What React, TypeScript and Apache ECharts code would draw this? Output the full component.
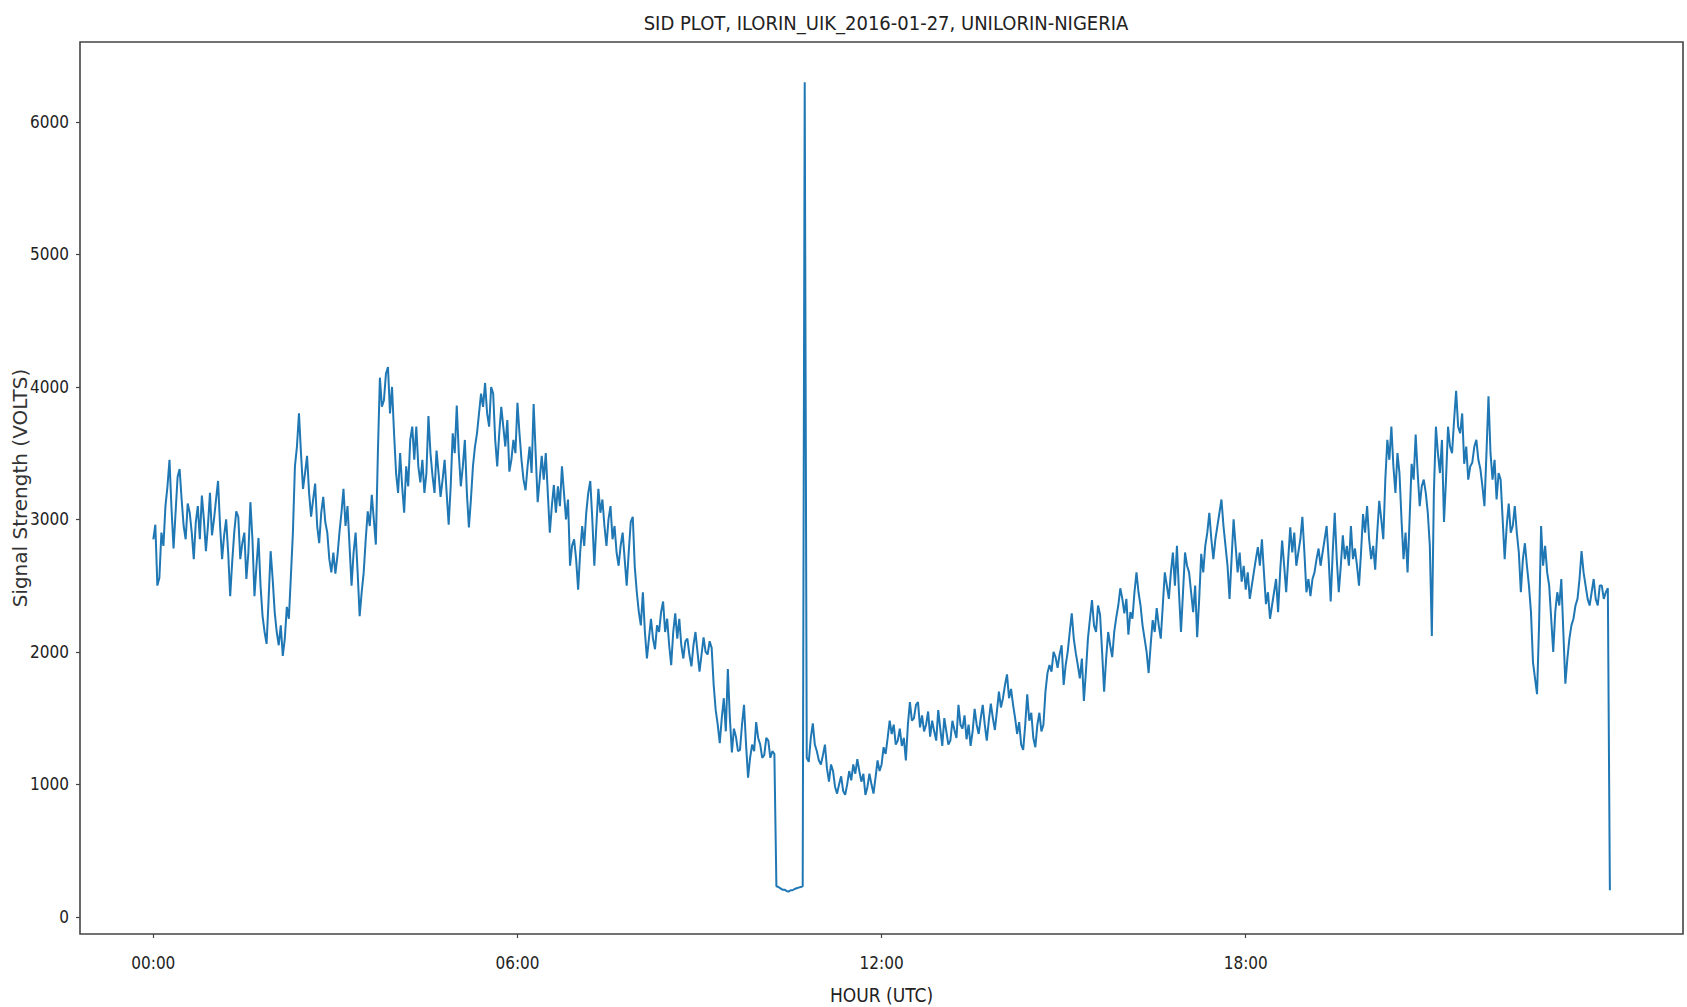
import React, { useEffect, useRef } from "react";
import * as echarts from "echarts";

// Signal strength samples, 30 per hour (every 2 minutes)
const h00 = [2850, 2960, 2500, 2560, 2900, 2800, 3100, 3250, 3450, 3080, 2780, 3050, 3320, 3380, 3150, 2950, 2850, 3120, 3050, 2900, 2700, 2980, 3100, 2850, 3180, 3000, 2760, 2950, 3200, 2880];
const h01 = [3000, 3150, 3290, 2950, 2700, 2880, 3000, 2750, 2420, 2680, 2900, 3060, 3020, 2700, 2820, 2900, 2550, 2750, 3130, 2850, 2420, 2650, 2860, 2500, 2270, 2150, 2060, 2400, 2760, 2550];
const h02 = [2300, 2150, 2050, 2200, 1970, 2100, 2340, 2250, 2570, 2900, 3400, 3550, 3800, 3500, 3230, 3350, 3480, 3200, 3020, 3150, 3270, 2950, 2820, 3050, 3170, 2980, 2900, 2700, 2600, 2750];
const h03 = [2590, 2720, 2900, 3050, 3230, 2950, 3100, 2800, 2500, 2750, 2900, 2600, 2270, 2450, 2600, 2850, 3060, 2950, 3185, 3000, 2810, 3500, 4070, 3850, 3900, 4100, 4150, 3800, 4000, 3650];
const h04 = [3350, 3200, 3500, 3250, 3050, 3400, 3250, 3600, 3700, 3450, 3700, 3400, 3280, 3450, 3200, 3350, 3780, 3500, 3330, 3200, 3520, 3350, 3170, 3300, 3450, 3200, 2960, 3250, 3650, 3500];
const h05 = [3860, 3500, 3250, 3400, 3600, 3200, 2940, 3150, 3400, 3550, 3650, 3800, 3950, 3850, 4030, 3800, 3700, 4000, 3950, 3600, 3400, 3650, 3850, 3700, 3550, 3750, 3360, 3450, 3600, 3500];
const h06 = [3880, 3650, 3450, 3300, 3220, 3400, 3550, 3350, 3870, 3500, 3130, 3300, 3480, 3300, 3500, 3200, 2900, 3100, 3260, 3050, 3250, 3100, 3400, 3200, 3000, 3150, 2650, 2800, 2850, 2700];
const h07 = [2470, 2750, 2950, 2800, 3050, 3200, 3290, 3000, 2650, 2950, 3230, 3050, 3150, 2950, 2800, 3000, 3100, 2850, 2950, 2750, 2650, 2800, 2900, 2700, 2500, 2750, 2980, 3020, 2640, 2450];
const h08 = [2300, 2200, 2450, 2150, 1950, 2100, 2250, 2100, 2020, 2200, 2150, 2300, 2380, 2150, 2250, 2050, 1900, 2150, 2290, 2100, 2250, 2050, 1950, 2080, 2100, 1980, 1890, 2050, 2150, 2000];
const h09 = [1850, 1980, 2110, 2000, 1980, 2080, 2030, 1750, 1560, 1450, 1310, 1500, 1650, 1400, 1870, 1500, 1240, 1420, 1360, 1250, 1260, 1450, 1600, 1300, 1050, 1200, 1300, 1250, 1470, 1350];
const h10 = [1300, 1200, 1220, 1350, 1330, 1200, 1250, 1230, 230, 225, 215, 205, 205, 195, 190, 200, 200, 210, 215, 220, 225, 230, 6300, 1200, 1170, 1350, 1460, 1300, 1250, 1180];
const h11 = [1150, 1220, 1300, 1120, 1020, 1150, 1100, 980, 930, 1000, 1060, 950, 920, 1000, 1100, 1030, 1150, 1080, 1190, 1100, 1020, 1080, 920, 980, 1080, 1000, 930, 1050, 1180, 1100];
const h12 = [1150, 1280, 1230, 1350, 1480, 1380, 1450, 1300, 1330, 1420, 1290, 1350, 1180, 1450, 1620, 1480, 1500, 1600, 1620, 1430, 1520, 1400, 1450, 1550, 1360, 1480, 1400, 1330, 1560, 1420];
const h13 = [1290, 1500, 1400, 1300, 1330, 1480, 1410, 1350, 1600, 1450, 1420, 1520, 1340, 1450, 1290, 1400, 1570, 1450, 1380, 1500, 1600, 1450, 1330, 1480, 1610, 1500, 1410, 1550, 1700, 1580];
const h14 = [1650, 1750, 1830, 1650, 1720, 1600, 1500, 1380, 1470, 1300, 1260, 1450, 1680, 1480, 1540, 1350, 1280, 1450, 1540, 1400, 1450, 1700, 1840, 1900, 1850, 2000, 1960, 1880, 1980, 2050];
const h15 = [1750, 1900, 2000, 2150, 2290, 2100, 1990, 1900, 1800, 1950, 1630, 1850, 2100, 2250, 2390, 2200, 2150, 2350, 2280, 2000, 1700, 1950, 2150, 2050, 1960, 2150, 2260, 2350, 2480, 2400];
const h16 = [2290, 2400, 2130, 2300, 2250, 2450, 2600, 2450, 2350, 2200, 2100, 2000, 1840, 2050, 2240, 2150, 2330, 2200, 2100, 2350, 2600, 2500, 2400, 2600, 2750, 2500, 2800, 2450, 2150, 2450];
const h17 = [2750, 2650, 2600, 2450, 2300, 2500, 2110, 2400, 2740, 2600, 2800, 2900, 3050, 2850, 2700, 2850, 2950, 3050, 3150, 2950, 2800, 2650, 2400, 2700, 3000, 2800, 2600, 2750, 2530, 2650];
const h18 = [2470, 2600, 2400, 2500, 2600, 2700, 2790, 2650, 2850, 2600, 2360, 2450, 2250, 2350, 2450, 2550, 2300, 2600, 2840, 2650, 2450, 2700, 2940, 2750, 2900, 2650, 2750, 2850, 3020, 2750];
const h19 = [2450, 2550, 2420, 2550, 2600, 2700, 2780, 2650, 2750, 2850, 2950, 2700, 2380, 2750, 3050, 2700, 2450, 2650, 2880, 2700, 2800, 2650, 2950, 2700, 2780, 2650, 2500, 2750, 3040, 2900];
const h20 = [3100, 2850, 2700, 2800, 2620, 2900, 3140, 3000, 2850, 3300, 3600, 3450, 3700, 3400, 3200, 3500, 3350, 3000, 2700, 2900, 2600, 3000, 3420, 3300, 3640, 3350, 3100, 3250, 3300, 3200];
const h21 = [3050, 2800, 2120, 3200, 3700, 3500, 3350, 3600, 2980, 3300, 3700, 3550, 3500, 3750, 3970, 3700, 3650, 3800, 3420, 3550, 3300, 3400, 3430, 3550, 3600, 3450, 3380, 3250, 3100, 3500];
const h22 = [3930, 3500, 3300, 3450, 3150, 3350, 3300, 3000, 2700, 2950, 3120, 2900, 2950, 3100, 2900, 2750, 2450, 2700, 2820, 2650, 2500, 2300, 1920, 1800, 1680, 2200, 2950, 2650, 2800, 2600];
const h23 = [2500, 2250, 2000, 2300, 2450, 2350, 2550, 2150, 1760, 1950, 2100, 2200, 2250, 2350, 2400, 2550, 2760, 2600, 2500, 2400, 2350, 2450, 2550, 2400, 2350, 2500, 2500, 2400, 2450, 2480];
const h24 = [200];

const SAMPLES_PER_HOUR = 30;
const xTicks = [0, 6, 12, 18];
const yTicks = [0, 1000, 2000, 3000, 4000, 5000, 6000];
const TITLE = "SID PLOT, ILORIN_UIK_2016-01-27, UNILORIN-NIGERIA";

const hourly = [h00, h01, h02, h03, h04, h05, h06, h07, h08, h09, h10, h11, h12, h13, h14, h15, h16, h17, h18, h19, h20, h21, h22, h23, h24];

const NARROW = "'Liberation Sans Narrow', 'DejaVu Sans Condensed', 'Liberation Sans', sans-serif";

export default function App() {
  const ref = useRef<HTMLDivElement>(null);
  useEffect(() => {
    if (!ref.current) return;
    const chart = echarts.init(ref.current, null, { renderer: "svg" });
    const values = hourly.flat();
    const data = values.map((v, i) => [i / SAMPLES_PER_HOUR, v]);
    chart.setOption({
      animation: false,
      backgroundColor: "#ffffff",
      title: {
        text: TITLE,
        left: 881,
        top: 8,
        textAlign: "center",
        textStyle: { fontFamily: NARROW, fontSize: 20, fontWeight: "normal", color: "#222" },
      },
      grid: {
        left: 80,
        right: 4,
        top: 42,
        bottom: 73,
        show: true,
        borderColor: "#444",
        borderWidth: 1.6,
        outerBoundsMode: "none",
        containLabel: false,
      },
      xAxis: {
        type: "value",
        min: -1.208,
        max: 25.205,
        name: "HOUR (UTC)",
        nameLocation: "middle",
        nameGap: 51,
        nameMoveOverlap: false,
        nameTextStyle: { fontFamily: NARROW, fontSize: 19, color: "#222" },
        splitLine: { show: false },
        axisLine: { show: false, onZero: false },
        axisTick: { show: true, inside: false, customValues: xTicks, length: 4, lineStyle: { color: "#444", width: 1.2 } },
        axisLabel: {
          customValues: xTicks,
          margin: 20,
          fontFamily: NARROW,
          fontSize: 17,
          color: "#222",
          formatter: (v: number) => String(v).padStart(2, "0") + ":00",
        },
      },
      yAxis: {
        type: "value",
        min: -130,
        max: 6604,
        name: "Signal Strength (VOLTS)",
        nameLocation: "middle",
        nameRotate: 90,
        nameGap: 50,
        nameMoveOverlap: false,
        nameTextStyle: { fontFamily: "'DejaVu Sans', sans-serif", fontSize: 20, color: "#333" },
        splitLine: { show: false },
        axisLine: { show: false, onZero: false },
        axisTick: { show: true, inside: false, customValues: yTicks, length: 4, lineStyle: { color: "#444", width: 1.2 } },
        axisLabel: {
          customValues: yTicks,
          margin: 11,
          fontFamily: NARROW,
          fontSize: 17,
          color: "#222",
          formatter: (v: number) => String(v),
        },
      },
      series: [
        {
          type: "line",
          data,
          showSymbol: false,
          symbol: "none",
          lineStyle: { color: "#1f77b4", width: 2 },
          itemStyle: { color: "#1f77b4" },
        },
      ],
    });
    return () => chart.dispose();
  }, []);
  return (
    <div
      ref={ref}
      style={{ position: "absolute", left: 0, top: 0, width: 1687, height: 1007, background: "#fff" }}
    />
  );
}
